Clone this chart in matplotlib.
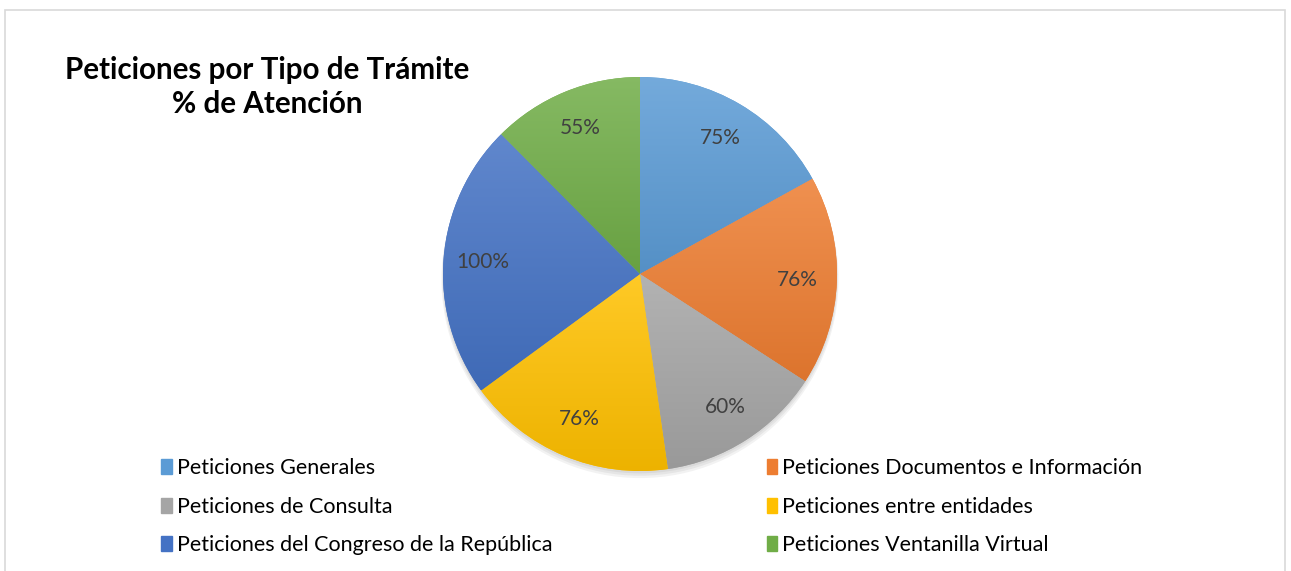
import numpy as np
import matplotlib
matplotlib.use('Agg')
import matplotlib.pyplot as plt
from matplotlib.colors import to_rgb
from matplotlib.patches import Rectangle, Circle

plt.rcParams['font.family'] = ['Lato', 'DejaVu Sans']

categories = [
    "Peticiones Generales",
    "Peticiones Documentos e Información",
    "Peticiones de Consulta",
    "Peticiones entre entidades",
    "Peticiones del Congreso de la República",
    "Peticiones Ventanilla Virtual",
]
values = [75, 76, 60, 76, 100, 55]
labels = ["75%", "76%", "60%", "76%", "100%", "55%"]
colors = ["#5B9BD5", "#ED7D31", "#A5A5A5", "#FFC000", "#4472C4", "#70AD47"]

W, H = 1291, 571
fig = plt.figure(figsize=(W / 100, H / 100), dpi=100)

# chart area frame
fig.patches.append(Rectangle((5 / W, -0.1), 1280 / W, (H - 10) / H + 0.1,
                             transform=fig.transFigure, fill=False,
                             edgecolor="#D9D9D9", linewidth=1.2))

cx, cy, r = 640, H - 274, 197
ax = fig.add_axes([(cx - r) / W, (cy - r) / H, 2 * r / W, 2 * r / H])

wedges, texts = ax.pie(values, labels=labels, colors=colors, startangle=90,
                       counterclock=False, labeldistance=0.8,
                       wedgeprops=dict(linewidth=0),
                       textprops=dict(color="#404040", fontsize=15,
                                      ha="center", va="center"))
for t in texts:
    t.set_horizontalalignment("center")
    t.set_zorder(5)
ax.set_xlim(-1, 1)
ax.set_ylim(-1, 1)
ax.set_aspect("equal")
ax.axis("off")

# soft shadow below the pie
for k, a in enumerate([0.05, 0.05, 0.05]):
    ax.add_patch(Circle((0, -0.012 - 0.008 * k), 1.0 + 0.004 * k, color="black",
                        alpha=a, lw=0, zorder=0.5, clip_on=False))


def blend(c, other, f):
    c = np.array(to_rgb(c))
    return c * (1 - f) + np.array(other) * f


# vertical gradient on each slice, lighter at top
for w, c in zip(wedges, colors):
    ext = w.get_path().get_extents()
    top = blend(c, (1, 1, 1), 0.15)
    bot = blend(c, (0, 0, 0), 0.07)
    grad = np.linspace(0, 1, 64)[:, None, None]
    img = top[None, None, :] * (1 - grad) + bot[None, None, :] * grad
    im = ax.imshow(img, extent=[ext.x0, ext.x1, ext.y0, ext.y1], origin="upper",
                   aspect="auto", zorder=w.get_zorder() + 0.1, interpolation="bilinear")
    im.set_clip_path(w)

fig.text(267 / W, 1 - 87 / H, "Peticiones por Tipo de Trámite\n% de Atención",
         ha="center", va="center", fontsize=21.3, fontweight="bold",
         linespacing=1.22, color="black")

# legend reads row by row in the reference, matplotlib fills columns first
order = [0, 2, 4, 1, 3, 5]
handles = [Rectangle((0, 0), 1, 1, color=colors[i]) for i in order]
leg = fig.legend(handles, [categories[i] for i in order], ncol=2, loc="upper left",
                 bbox_to_anchor=(142 / W, 1 - 439 / H), frameon=False,
                 fontsize=15.5, handlelength=0.5, handleheight=0.7,
                 handletextpad=0.22, columnspacing=9.95, labelspacing=0.86)
for t in leg.get_texts():
    t.set_color("#000000")

fig.savefig("out.png", dpi=100)
